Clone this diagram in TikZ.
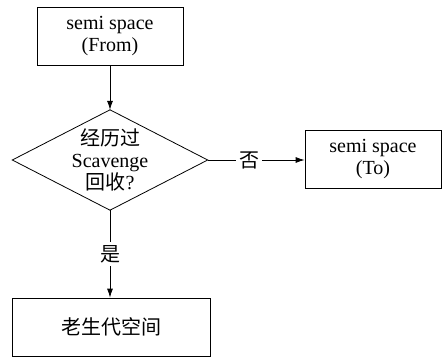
\documentclass[tikz,border=0pt]{standalone}
\usepackage{fontspec}
\setmainfont{Liberation Serif}
\newfontfamily\zhfont{Noto Sans CJK SC}
\newcommand{\zh}[1]{{\zhfont #1}}
\usetikzlibrary{arrows.meta}
\begin{document}
\begin{tikzpicture}[x=1pt,y=1pt,
  box/.style={draw,line width=0.8pt,align=center,font=\fontsize{20}{22}\selectfont,inner sep=0pt},
  lbl/.style={font=\fontsize{20}{22}\selectfont,fill=white,inner sep=3pt},
  arr/.style={line width=0.8pt,-{Latex[length=9pt,width=6pt]}}]
\useasboundingbox (0,0) rectangle (445,-357);
\node[box,minimum width=146pt,minimum height=58pt] (from) at (110,-36) {semi space\\(From)};
\node[align=center,font=\fontsize{20}{22}\selectfont,inner sep=0pt,minimum width=195pt,minimum height=100pt] (dec) at (110,-160) {\zh{经历过}\\Scavenge\\\zh{回收}?};
\draw[line width=0.8pt] (dec.west) -- (dec.north) -- (dec.east) -- (dec.south) -- cycle;
\node[box,minimum width=136pt,minimum height=58pt] (to) at (373,-159) {semi space\\(To)};
\node[box,minimum width=198pt,minimum height=58pt] (old) at (111,-327) {\zh{老生代空间}};
\draw[arr] (from.south) -- (dec.north);
\draw[arr] (dec.east) -- node[lbl,pos=0.43] {\zh{否}} (dec.east -| to.west);
\draw[arr] (dec.south) -- node[lbl] {\zh{是}} (dec.south |- old.north);
\end{tikzpicture}
\end{document}
